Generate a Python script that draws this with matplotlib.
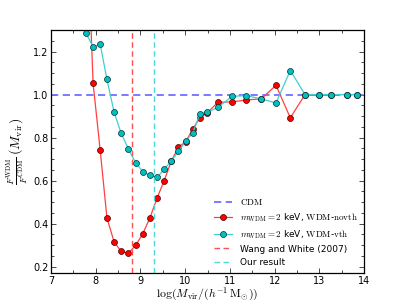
import numpy as np
import matplotlib
matplotlib.use("Agg")
import matplotlib.pyplot as plt
from matplotlib.ticker import MultipleLocator

plt.rcParams['mathtext.fontset'] = 'cm'
plt.rcParams['font.size'] = 7

# log mass bins
logm = [7.78, 7.94, 8.10, 8.25, 8.41, 8.57, 8.73, 8.89, 9.05, 9.21, 9.37,
        9.53, 9.69, 9.85, 10.01, 10.17, 10.33, 10.49, 10.73, 11.05, 11.37,
        11.70, 12.03, 12.35, 12.68, 13.00, 13.26, 13.62, 13.84]

ratio_novth = [1.95, 1.053, 0.74, 0.426, 0.315, 0.27, 0.262, 0.298, 0.352,
               0.426, 0.518, 0.60, 0.69, 0.757, 0.78, 0.84, 0.893, 0.915,
               0.964, 0.966, 0.975, 0.98, 1.043, 0.892, 1.0, 1.0, 1.0, 1.0, 1.0]

ratio_vth = [1.287, 1.222, 1.233, 1.071, 0.918, 0.819, 0.747, 0.684, 0.642,
             0.625, 0.615, 0.652, 0.692, 0.736, 0.783, 0.822, 0.91, 0.918,
             0.94, 0.992, 0.995, 0.98, 0.961, 1.112, 1.0, 1.0, 1.0, 1.0, 1.0]

cdm_level = 1.0
m_wang_white = 8.80
m_ours = 9.30

fig = plt.figure(figsize=(4.05, 3.04), dpi=100)
ax = fig.add_axes([0.126, 0.102, 0.773, 0.799])

ax.axhline(cdm_level, color='#6f6fff', ls='--', lw=1.3, dashes=(4, 2.5), label=r'$\mathrm{CDM}$')
ax.plot(logm, ratio_novth, '-o', color='#ff4040', lw=0.9, ms=4.3,
        mfc='red', mec='#440000', mew=0.5,
        label=r'$m_{\rm WDM}=2$ keV, $\rm WDM$-$\rm novth$')
ax.plot(logm, ratio_vth, '-o', color='#40d0d0', lw=0.9, ms=4.3,
        mfc='#00bfbf', mec='#003030', mew=0.5,
        label=r'$m_{\rm WDM}=2$ keV, $\rm WDM$-$\rm vth$')
ax.axvline(m_wang_white, color='#ff5050', ls='--', lw=1.0, dashes=(4, 2.5),
           label='Wang and White (2007)')
ax.axvline(m_ours, color='#50d8d8', ls='--', lw=1.0, dashes=(4, 2.5),
           label='Our result')

ax.set_xlim(7, 14)
ax.set_ylim(0.17, 1.30)
ax.xaxis.set_major_locator(MultipleLocator(1))
ax.xaxis.set_minor_locator(MultipleLocator(0.5))
ax.yaxis.set_major_locator(MultipleLocator(0.2))
ax.yaxis.set_minor_locator(MultipleLocator(0.05))
ax.tick_params(which='both', direction='in', top=True, right=True, width=0.5)
ax.tick_params(which='major', length=3.5, pad=2)
ax.tick_params(which='minor', length=2)
for s in ax.spines.values():
    s.set_linewidth(0.9)

ax.set_xlabel(r'$\log(M_{\rm vir}/(h^{-1}\,{\rm M_{\odot}}))$', fontsize=8.5, labelpad=0)
ax.set_ylabel(r'$\frac{F^{\rm WDM}}{F^{\rm CDM}}\,(M_{\rm vir})$', fontsize=10, labelpad=2)

ax.legend(loc='lower right', frameon=False, fontsize=6.5, handlelength=2,
          labelspacing=0.45, borderaxespad=0.3)

fig.savefig('out.png', dpi=100)
